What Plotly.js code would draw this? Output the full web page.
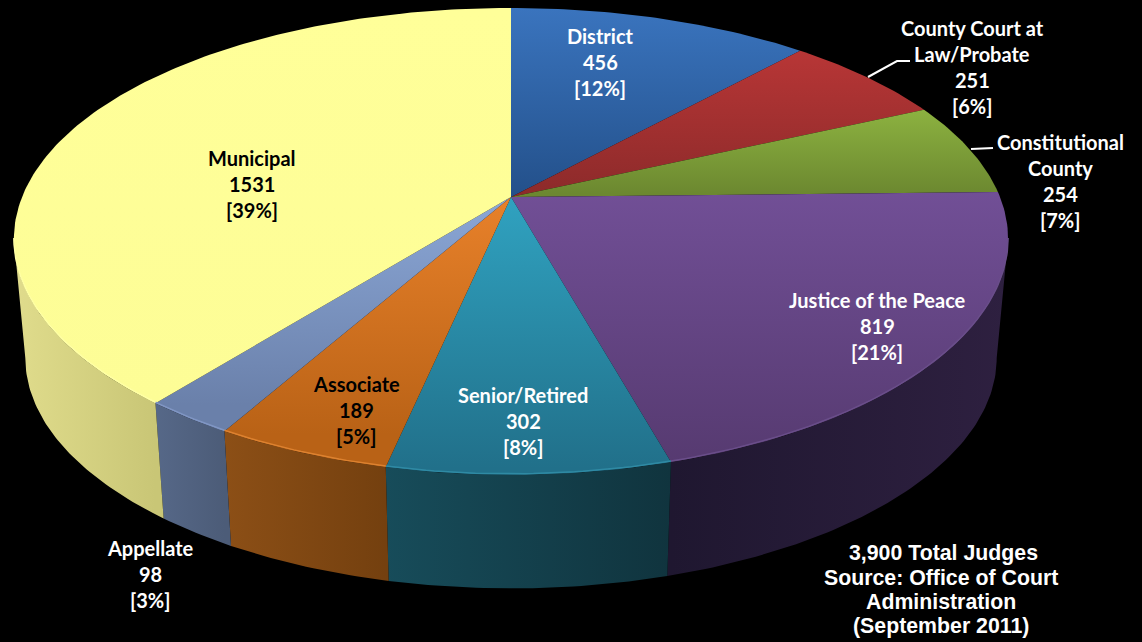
<!DOCTYPE html>
<html><head><meta charset="utf-8">
<script src="https://cdn.plot.ly/plotly-3.0.1.min.js"></script>
<style>html,body{margin:0;padding:0;background:#000;overflow:hidden}#c{width:1142px;height:642px}</style>
</head><body><div id="c"></div>
<script>
const categories = ["District","County Court at Law/Probate","Constitutional County","Justice of the Peace","Senior/Retired","Associate","Appellate","Municipal"];
const values = [456,251,254,819,302,189,98,1531];
const percents = ["[12%]","[6%]","[7%]","[21%]","[8%]","[5%]","[3%]","[39%]"];
const labelLines = [["District"],["County Court at","Law/Probate"],["Constitutional","County"],["Justice of the Peace"],["Senior/Retired"],["Associate"],["Appellate"],["Municipal"]];
const labelX = [600,972,1060,877,523,356,150,252];
const labelY = [35.5,28,142,300,395,384,548,158];
const labelColor = ["#fff","#fff","#fff","#fff","#fff","#000","#fff","#000"];
const topTop = ["#3a74be","#b83636","#8cb240","#714f96","#30a2c0","#e8812a","#8ba7d6","#ffff99"];
const topBot = ["#23508a","#8c2a2a","#6c8830","#563a70","#21708a","#b96216","#6a80aa","#fdfd96"];
const topStart = [8,50,110,193,197,197,197,8];
const topStop = [197,197,193,465,468,434,405,405];
const wallL = ["#2a5080","#7a2525","#5c7228","#1f1730","#174c5a","#8c4f16","#566888","#e0dc8c"];
const wallR = ["#2a5080","#7a2525","#5c7228","#2e2040","#10343e","#74400f","#4c5c78","#c9c676"];
const rimColor = ["#3a74be","#b83636","#8cb240","#6a4e8a","#2f8aa4","#dd8230","#8096c4","#ffffa4"];
const footnote = ["3,900 Total Judges","Source: Office of Court","Administration","(September 2011)"];
const footnoteX = [943,941,941,941];
const footnoteY = [553,578,602,626];

const cx=511, cy=197, ax=489, kx=0.18, by=225, ky=0.19, depthScale=0.977, bottomCy=317;
const total = values.reduce((s,v)=>s+v,0);
const tau = 2*Math.PI;
const sideR = Math.acos(-kx), sideL = tau-sideR;
function proj(t){const s=Math.sin(t),c=Math.cos(t);return [cx+ax*s/(1+kx*c), cy-by*c/(1+ky*c)];}
function projBottom(p){return [cx+(p[0]-cx)*depthScale, bottomCy+(p[1]-cy)*depthScale];}
function sample(t0,t1,n){const r=[];for(let j=0;j<=n;j++)r.push(proj(t0+(t1-t0)*j/n));return r;}

const walls=[], tops=[], rims=[];
let acc=0;
values.forEach((v,i)=>{
  const t0=acc/total*tau; acc+=v; const t1=acc/total*tau;
  const n=Math.max(8,Math.ceil((t1-t0)*70));
  const arc=sample(t0,t1,n);
  const w0=Math.max(t0,sideR), w1=Math.min(t1,sideL);
  if(w1>w0){
    const front=sample(w0,w1,Math.max(8,Math.ceil((w1-w0)*70)));
    const wall=front.concat(front.map(projBottom).reverse());
    const xs=front.map(p=>p[0]);
    walls.push({type:"scatter",mode:"lines",x:wall.map(p=>p[0]),y:wall.map(p=>p[1]),fill:"toself",line:{width:0},hoverinfo:"skip",showlegend:false,name:categories[i],
      fillgradient:{type:"horizontal",start:Math.min(...xs),stop:Math.max(...xs),colorscale:[[0,wallL[i]],[1,wallR[i]]]}});
    rims.push({type:"scatter",mode:"lines",x:front.map(p=>p[0]),y:front.map(p=>p[1]-1),line:{width:1.5,color:rimColor[i]},hoverinfo:"skip",showlegend:false});
  }
  const face=[[cx,cy]].concat(arc);
  tops.push({type:"scatter",mode:"lines",x:face.map(p=>p[0]),y:face.map(p=>p[1]),fill:"toself",line:{width:0},hoverinfo:"skip",showlegend:false,name:categories[i],
    fillgradient:{type:"vertical",start:topStart[i],stop:topStop[i],colorscale:[[0,topTop[i]],[1,topBot[i]]]}});
});
const data=[...walls,...tops,...rims];
data.push({type:"scatter",mode:"lines",x:[868,897,910],y:[77,61,61],line:{color:"#fff",width:2},hoverinfo:"skip",showlegend:false});
data.push({type:"scatter",mode:"lines",x:[971,993],y:[149,148],line:{color:"#fff",width:2},hoverinfo:"skip",showlegend:false});

const annotations=[];
const step=26;
categories.forEach((c,i)=>{
  const lines=labelLines[i].concat([String(values[i]),percents[i]]);
  lines.forEach((t,j)=>annotations.push({x:labelX[i],y:labelY[i]+j*step,text:"<b>"+t+"</b>",showarrow:false,xanchor:"center",yanchor:"middle",
    font:{family:"Lato, 'Noto Sans', sans-serif",size:20,color:labelColor[i]}}));
});
footnote.forEach((t,j)=>annotations.push({x:footnoteX[j],y:footnoteY[j],text:"<b>"+t+"</b>",showarrow:false,xanchor:"center",yanchor:"middle",
  font:{family:"'Liberation Sans', Arial, sans-serif",size:21.3,color:"#fff"}}));

Plotly.newPlot("c",data,{
  width:1142,height:642,margin:{l:0,r:0,t:0,b:0},paper_bgcolor:"#000",plot_bgcolor:"#000",showlegend:false,
  xaxis:{range:[0,1142],visible:false,fixedrange:true},
  yaxis:{range:[642,0],visible:false,fixedrange:true},
  annotations
},{displayModeBar:false,staticPlot:true});
</script></body></html>
